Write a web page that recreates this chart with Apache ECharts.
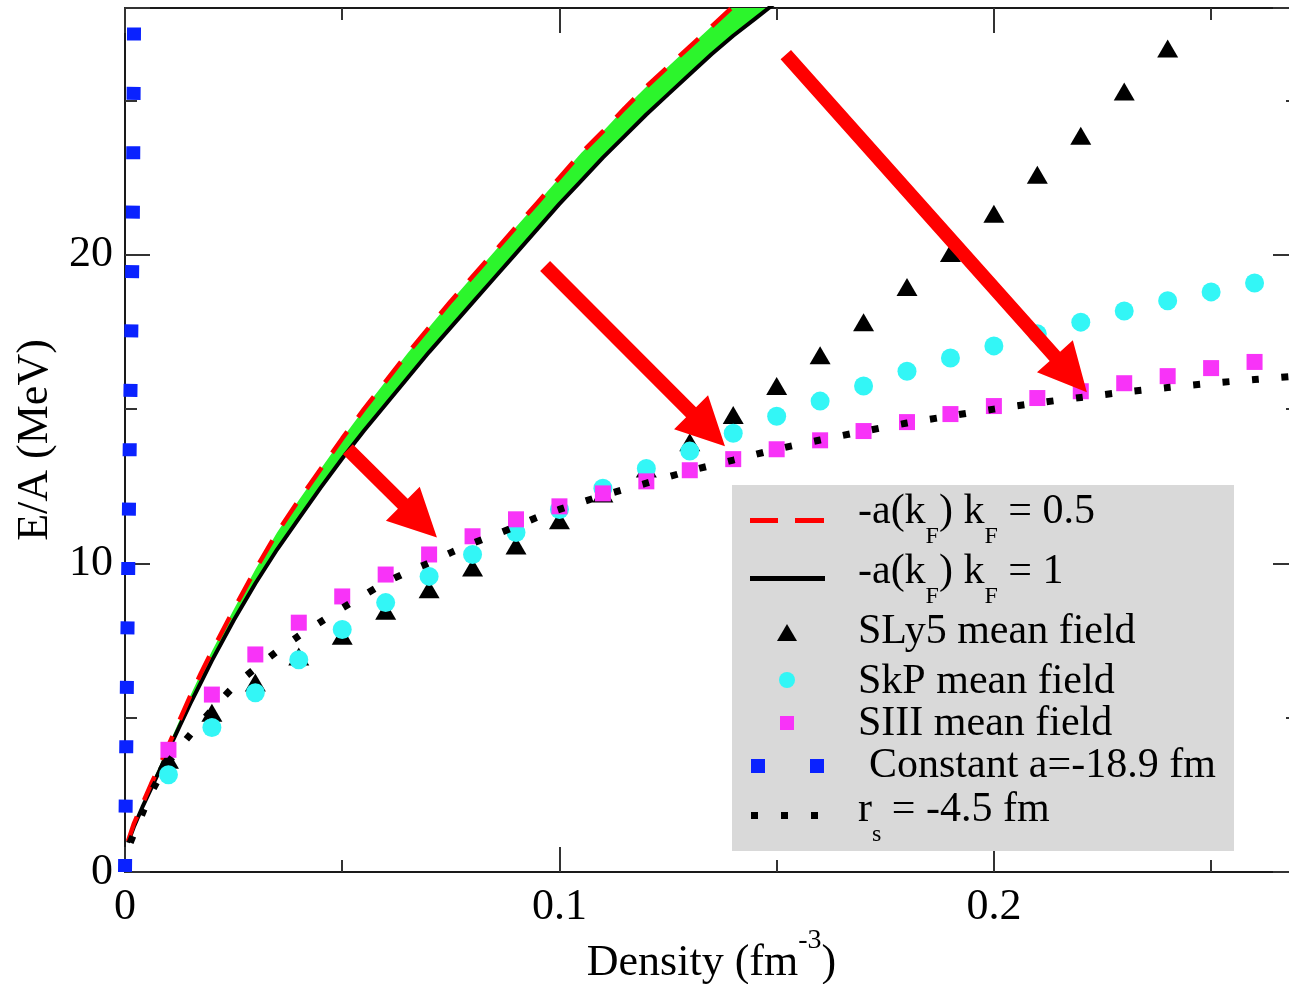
<!DOCTYPE html>
<html>
<head>
<meta charset="utf-8">
<script src="https://cdn.jsdelivr.net/npm/echarts@6/dist/echarts.min.js"></script>
<style>
  html, body { margin: 0; padding: 0; background: #ffffff; overflow: hidden; }
  #chart { width: 1289px; height: 984px; }
</style>
</head>
<body>
<div id="chart"></div>
<script>
// Energy per particle of neutron matter versus density.

// Analytic curves: -a(kF) kF = 0.5 (upper) and -a(kF) kF = 1 (lower)
const curveDensity = [0.0007, 0.002, 0.004, 0.006, 0.008, 0.010, 0.0125, 0.015, 0.0175, 0.020,
  0.025, 0.030, 0.035, 0.040, 0.045, 0.050, 0.055, 0.060, 0.065, 0.070, 0.075, 0.080, 0.085,
  0.090, 0.095, 0.100, 0.105, 0.110, 0.115, 0.120, 0.125, 0.130, 0.135, 0.140, 0.145, 0.150];
const energyKf05 = [1.0, 1.55, 2.2, 2.85, 3.45, 4.1, 4.9, 5.7, 6.45, 7.15,
  8.5, 9.8, 11.0, 12.05, 13.05, 14.05, 15.0, 15.9, 16.8, 17.65, 18.5, 19.3, 20.1,
  20.9, 21.7, 22.5, 23.3, 24.0, 24.75, 25.45, 26.1, 26.75, 27.4, 28.05, 28.7, 29.3];
const energyKf1 = [0.95, 1.45, 2.1, 2.7, 3.3, 3.95, 4.7, 5.45, 6.15, 6.85,
  8.15, 9.35, 10.45, 11.45, 12.45, 13.4, 14.3, 15.15, 16.0, 16.85, 17.65, 18.45, 19.25,
  20.05, 20.85, 21.65, 22.4, 23.15, 23.85, 24.55, 25.2, 25.85, 26.5, 27.1, 27.65, 28.2];

// Skyrme mean-field results
const meanFieldDensity = [0.01, 0.02, 0.03, 0.04, 0.05, 0.06, 0.07, 0.08, 0.09, 0.10, 0.11, 0.12, 0.13,
  0.14, 0.15, 0.16, 0.17, 0.18, 0.19, 0.20, 0.21, 0.22, 0.23, 0.24, 0.25, 0.26];
const sly5Energy = [3.64, 5.16, 6.14, 6.98, 7.66, 8.47, 9.16, 9.87, 10.58, 11.4, 12.27, 13.08, 13.93,
  14.81, 15.75, 16.75, 17.82, 18.96, 20.06, 21.33, 22.6, 23.86, 25.29, 26.69];
const skpEnergy = [3.15, 4.68, 5.81, 6.88, 7.86, 8.73, 9.58, 10.29, 11.0, 11.75, 12.44, 13.08, 13.64,
  14.22, 14.77, 15.26, 15.75, 16.23, 16.66, 17.05, 17.44, 17.82, 18.18, 18.51, 18.8, 19.09];
const siiiEnergy = [3.96, 5.75, 7.05, 8.08, 8.93, 9.64, 10.29, 10.88, 11.43, 11.85, 12.27, 12.66, 13.02,
  13.38, 13.7, 13.99, 14.29, 14.58, 14.84, 15.1, 15.36, 15.58, 15.84, 16.07, 16.33, 16.53];

// Effective range r_s = -4.5 fm
const rsDensity = [0.0012, 0.004, 0.0065, 0.010, 0.015, 0.020, 0.025, 0.030, 0.035, 0.040, 0.045,
  0.050, 0.055, 0.060, 0.065, 0.070, 0.075, 0.080, 0.085, 0.090, 0.095, 0.100, 0.110, 0.120,
  0.130, 0.140, 0.150, 0.160, 0.170, 0.180, 0.190, 0.200, 0.210, 0.220, 0.230, 0.240, 0.250,
  0.260, 0.270];
const rsEnergy = [0.95, 1.9, 2.7, 3.55, 4.45, 5.25, 6.0, 6.6, 7.15, 7.65, 8.1,
  8.55, 8.97, 9.38, 9.72, 10.02, 10.35, 10.65, 10.92, 11.2, 11.5, 11.75, 12.2, 12.6,
  13.0, 13.35, 13.7, 14.0, 14.28, 14.55, 14.78, 15.0, 15.2, 15.38, 15.55, 15.7, 15.84,
  15.96, 16.08];

// Constant scattering length a = -18.9 fm
const constADensity = [0, 0.0005, 0.0011, 0.0018, 0.0021];
const constAEnergy = [0, 7, 14, 21, 28];

// Tick labels
const xLabelValues = [0, 0.1, 0.2];
const yLabelValues = [0, 10, 20];

// Arrows: [tail, tip] in (density, E/A)
const arrowAnnotations = [
  [[0.0513, 13.70], [0.0718, 10.84]],
  [[0.0967, 19.64], [0.1381, 13.80]],
  [[0.1521, 26.49], [0.2214, 15.55]]
];

const FONT = 'Liberation Serif';
const AXIS_COLOR = '#1a1a1a';
const TICK_COLOR = '#333333';
const C_RED = '#ff0000', C_GREEN = '#2cf52c', C_CYAN = '#33f6f6',
      C_MAGENTA = '#f833f8', C_BLUE = '#0a22ff', C_BLACK = '#000000';

const pairs = (xs, ys) => ys.map((y, i) => [xs[i], y]);
const isLabel = (list, v) => list.some(t => Math.abs(t - v) < 1e-9);

function makeXAxis(position, interval, tickLen, showLine, withLabels) {
  return {
    type: 'value', position, min: 0, max: 0.27, interval,
    axisLine: { show: showLine, onZero: false, lineStyle: { color: AXIS_COLOR, width: 2 } },
    axisTick: { show: true, inside: true, length: tickLen, lineStyle: { color: TICK_COLOR, width: 2 } },
    splitLine: { show: false },
    axisLabel: withLabels ? {
      show: true, margin: 13, color: '#000', fontFamily: FONT, fontSize: 44,
      formatter: v => isLabel(xLabelValues, v) ? String(Math.round(v * 10) / 10) : ''
    } : { show: false },
    ...(withLabels ? {
      name: '{m|Density (fm}{p|-3}{m|)}',
      nameLocation: 'middle', nameGap: 55, nameMoveOverlap: false,
      nameTextStyle: {
        color: '#000', fontFamily: FONT, fontSize: 44,
        rich: {
          m: { fontFamily: FONT, fontSize: 44, height: 44, lineHeight: 58, verticalAlign: 'bottom', color: '#000' },
          p: { fontFamily: FONT, fontSize: 28, height: 28, lineHeight: 28, verticalAlign: 'top', color: '#000' }
        }
      }
    } : {})
  };
}

function makeYAxis(position, interval, tickLen, showLine, withLabels) {
  return {
    type: 'value', position, min: 0, max: 28, interval,
    axisLine: { show: showLine, onZero: false, lineStyle: { color: AXIS_COLOR, width: 2 } },
    axisTick: { show: true, inside: true, length: tickLen, lineStyle: { color: TICK_COLOR, width: 2 } },
    splitLine: { show: false },
    axisLabel: withLabels ? {
      show: true, margin: 12, color: '#000', fontFamily: FONT, fontSize: 44,
      formatter: v => isLabel(yLabelValues, v) ? String(Math.round(v)) : ''
    } : { show: false },
    ...(withLabels ? {
      name: 'E/A (MeV)', nameLocation: 'middle', nameGap: 68, nameMoveOverlap: false,
      nameTextStyle: { color: '#000', fontFamily: FONT, fontSize: 44 }
    } : {})
  };
}

const chart = echarts.init(document.getElementById('chart'), null, { renderer: 'canvas' });

// Green band between the two analytic curves, drawn through the axes' scales
function renderBand(params, api) {
  const upper = curveDensity.map((x, i) => api.coord([x, energyKf05[i]]));
  const lower = curveDensity.map((x, i) => api.coord([x, energyKf1[i]])).reverse();
  const cs = params.coordSys;
  return {
    type: 'polygon',
    shape: { points: upper.concat(lower) },
    style: { fill: C_GREEN },
    clipPath: { type: 'rect', shape: { x: cs.x, y: cs.y, width: cs.width, height: cs.height } }
  };
}

chart.setOption({
  backgroundColor: '#ffffff',
  animation: false,
  grid: { left: 125, top: 8, width: 1173, height: 864, containLabel: false, outerBoundsMode: 'none' },
  xAxis: [
    makeXAxis('bottom', 0.05, 12, true, true),
    makeXAxis('bottom', 0.1, 25, false, false),
    makeXAxis('top', 0.05, 12, true, false),
    makeXAxis('top', 0.1, 25, false, false)
  ],
  yAxis: [
    makeYAxis('left', 5, 12, true, true),
    makeYAxis('left', 10, 25, false, false),
    makeYAxis('right', 5, 12, true, false),
    makeYAxis('right', 10, 25, false, false)
  ],
  series: [
    { name: 'band', type: 'custom', renderItem: renderBand, data: [[0, 0]], silent: true, z: 2 },
    { name: '-a(kF) kF = 1', type: 'line', data: pairs(curveDensity, energyKf1),
      showSymbol: false, lineStyle: { color: C_BLACK, width: 4 }, z: 3 },
    { name: '-a(kF) kF = 0.5', type: 'line', data: pairs(curveDensity, energyKf05),
      showSymbol: false, lineStyle: { color: C_RED, width: 4.5, type: [26, 18], cap: 'butt' }, z: 3 },
    { name: 'SLy5 mean field', type: 'scatter', data: pairs(meanFieldDensity, sly5Energy),
      symbol: 'triangle', symbolSize: [21, 18], itemStyle: { color: C_BLACK, opacity: 1 }, z: 4 },
    { name: 'SkP mean field', type: 'scatter', data: pairs(meanFieldDensity, skpEnergy),
      symbol: 'circle', symbolSize: 19, itemStyle: { color: C_CYAN, opacity: 1 }, z: 5 },
    { name: 'SIII mean field', type: 'scatter', data: pairs(meanFieldDensity, siiiEnergy),
      symbol: 'rect', symbolSize: 16, itemStyle: { color: C_MAGENTA, opacity: 1 }, z: 6 },
    { name: 'r_s = -4.5 fm', type: 'line', data: pairs(rsDensity, rsEnergy), smooth: 0.3,
      showSymbol: false, lineStyle: { color: C_BLACK, width: 7, type: [7, 22.5], cap: 'butt' }, z: 7 },
    { name: 'Constant a=-18.9 fm', type: 'line', data: pairs(constADensity, constAEnergy), clip: false,
      showSymbol: false, lineStyle: { color: C_BLUE, width: 14, type: [13, 46.4], cap: 'butt' }, z: 8 }
  ]
});

// Legend panel
const legendX = 858;
const main = { fontFamily: FONT, fontSize: 42, height: 42, lineHeight: 42, verticalAlign: 'top', fill: '#000' };
const sub = { fontFamily: FONT, fontSize: 24, height: 24, lineHeight: 58, verticalAlign: 'bottom', fill: '#000' };
function legendText(text, x, y) {
  return { type: 'text', z: 101, style: { text, x, y, fill: '#000', fontFamily: FONT, fontSize: 42,
    verticalAlign: 'top', align: 'left', rich: { m: main, s: sub } } };
}
const legendItems = [
  { type: 'rect', z: 100, shape: { x: 732, y: 485, width: 502, height: 366 }, style: { fill: '#d9d9d9' } },
  { type: 'rect', z: 101, shape: { x: 750, y: 518, width: 28, height: 5 }, style: { fill: C_RED } },
  { type: 'rect', z: 101, shape: { x: 795, y: 518, width: 29, height: 5 }, style: { fill: C_RED } },
  legendText('{m|-a(k}{s|F}{m|) k}{s|F}{m| = 0.5}', legendX, 491),
  { type: 'rect', z: 101, shape: { x: 750, y: 576, width: 75, height: 5 }, style: { fill: C_BLACK } },
  legendText('{m|-a(k}{s|F}{m|) k}{s|F}{m| = 1}', legendX, 551),
  { type: 'polygon', z: 101, shape: { points: [[787, 624], [797, 641], [777, 641]] }, style: { fill: C_BLACK } },
  legendText('{m|SLy5 mean field}', legendX, 611),
  { type: 'circle', z: 101, shape: { cx: 787, cy: 680, r: 8 }, style: { fill: C_CYAN } },
  legendText('{m|SkP mean field}', legendX, 661),
  { type: 'rect', z: 101, shape: { x: 780, y: 716, width: 14, height: 14 }, style: { fill: C_MAGENTA } },
  legendText('{m|SIII mean field}', legendX, 703),
  { type: 'rect', z: 101, shape: { x: 751, y: 759, width: 14, height: 14 }, style: { fill: C_BLUE } },
  { type: 'rect', z: 101, shape: { x: 810, y: 759, width: 14, height: 14 }, style: { fill: C_BLUE } },
  legendText('{m|Constant a=-18.9 fm}', 869, 745),
  { type: 'rect', z: 101, shape: { x: 751, y: 812, width: 7, height: 7 }, style: { fill: C_BLACK } },
  { type: 'rect', z: 101, shape: { x: 781, y: 812, width: 7, height: 7 }, style: { fill: C_BLACK } },
  { type: 'rect', z: 101, shape: { x: 811, y: 812, width: 7, height: 7 }, style: { fill: C_BLACK } },
  legendText('{m|r}{s|s}{m| = -4.5 fm}', legendX, 789)
];

// Red arrows placed in data coordinates
const SHAFT_HALF = 7, HEAD_LEN = 48, HEAD_HALF = 24;
const arrowItems = arrowAnnotations.map(([tail, tip]) => {
  const p0 = chart.convertToPixel({ gridIndex: 0 }, tail);
  const p1 = chart.convertToPixel({ gridIndex: 0 }, tip);
  const dx = p1[0] - p0[0], dy = p1[1] - p0[1];
  const len = Math.hypot(dx, dy);
  const ux = dx / len, uy = dy / len, nx = -uy, ny = ux;
  const hb = [p1[0] - ux * HEAD_LEN, p1[1] - uy * HEAD_LEN];
  const pts = [
    [p0[0] + nx * SHAFT_HALF, p0[1] + ny * SHAFT_HALF],
    [hb[0] + nx * SHAFT_HALF, hb[1] + ny * SHAFT_HALF],
    [hb[0] + nx * HEAD_HALF, hb[1] + ny * HEAD_HALF],
    p1,
    [hb[0] - nx * HEAD_HALF, hb[1] - ny * HEAD_HALF],
    [hb[0] - nx * SHAFT_HALF, hb[1] - ny * SHAFT_HALF],
    [p0[0] - nx * SHAFT_HALF, p0[1] - ny * SHAFT_HALF]
  ];
  return { type: 'polygon', z: 90, shape: { points: pts }, style: { fill: C_RED } };
});

chart.setOption({ graphic: legendItems.concat(arrowItems) });
</script>
</body>
</html>
